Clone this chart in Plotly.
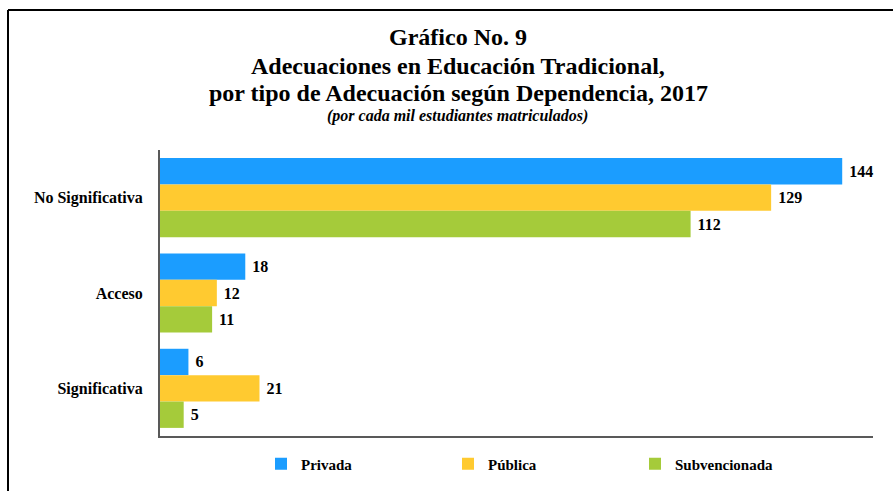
import plotly.graph_objects as go

categories = ["No Significativa", "Acceso", "Significativa"]
series_names = ["Privada", "Pública", "Subvencionada"]
privada = [144, 18, 6]
publica = [129, 12, 21]
subvencionada = [112, 11, 5]
colors = ["#1B9DFF", "#FFCA30", "#A5CB3A"]

title_lines = ["Gráfico No. 9", "Adecuaciones en Educación Tradicional,",
               "por tipo de Adecuación según Dependencia, 2017"]
subtitle = "(por cada mil estudiantes matriculados)"

W, H = 893, 491
L, R, T, B = 160, 20, 150, 55
pw, ph = W - L - R, H - T - B

def px_x(x):
    return (x - L) / pw

def px_y(y):
    return (H - B - y) / ph

FONT = "Liberation Serif"

fig = go.Figure()
for name, vals, col in zip(series_names, [privada, publica, subvencionada], colors):
    fig.add_trace(go.Bar(
        y=categories, x=vals, name=name, orientation="h",
        marker=dict(color=col, line=dict(width=0)),
        text=vals, textposition="outside", texttemplate=" %{x}",
        textfont=dict(family=FONT, size=16, color="#000000", weight="bold"),
        cliponaxis=False,
    ))

fig.update_layout(
    width=W, height=H,
    margin=dict(l=L, r=R, t=T, b=B, autoexpand=False),
    paper_bgcolor="white", plot_bgcolor="white",
    barmode="group", bargap=0.17, bargroupgap=0,
    font=dict(family=FONT, size=14, color="#000000"),
    showlegend=True,
    legend=dict(orientation="h", x=px_x(261), xanchor="left", y=px_y(464), yanchor="middle",
                font=dict(family=FONT, size=15, color="#000000", weight="bold"),
                entrywidth=142, entrywidthmode="pixels", itemwidth=30,
                bgcolor="rgba(0,0,0,0)"),
    xaxis=dict(range=[0, 150.5], showticklabels=False, showgrid=False, zeroline=False,
               showline=True, linecolor="#595959", linewidth=2, ticks=""),
    yaxis=dict(autorange="reversed", showgrid=False, zeroline=False,
               showline=True, linecolor="#595959", linewidth=2, ticks="",
               ticklabelstandoff=12,
               tickfont=dict(family=FONT, size=16, color="#000000", weight="bold")),
)

for line, yc in zip(title_lines, [37, 66, 93]):
    fig.add_annotation(xref="paper", yref="paper", x=px_x(458), y=px_y(yc), yanchor="middle",
                       xanchor="center", showarrow=False, text="<b>" + line + "</b>",
                       font=dict(family=FONT, size=24, color="#000000"))
fig.add_annotation(xref="paper", yref="paper", x=px_x(457), y=px_y(116), yanchor="middle",
                   xanchor="center", showarrow=False,
                   text="<b><i>" + subtitle + "</i></b>",
                   font=dict(family=FONT, size=16, color="#000000"))

# frame lines
fig.add_shape(type="line", xref="paper", yref="paper", x0=px_x(8), x1=px_x(W + 5),
              y0=px_y(10), y1=px_y(10), line=dict(color="#000000", width=2))
fig.add_shape(type="line", xref="paper", yref="paper", x0=px_x(8), x1=px_x(8),
              y0=px_y(10), y1=px_y(H + 5), line=dict(color="#000000", width=2))

fig.write_html("out.html", config={"displayModeBar": False},
               post_script="document.body.style.margin='0';")
